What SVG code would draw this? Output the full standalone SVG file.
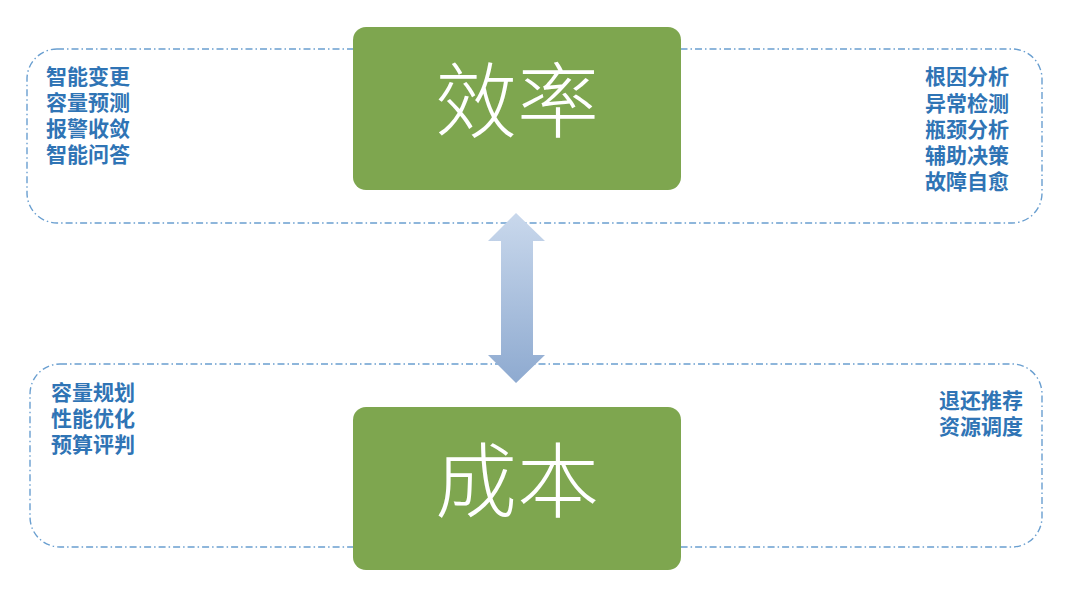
<svg xmlns="http://www.w3.org/2000/svg" width="1080" height="593" viewBox="0 0 1080 593">
<defs>
<linearGradient id="ag" x1="0" y1="0" x2="0" y2="1">
<stop offset="0" stop-color="#c9d8ec"/>
<stop offset="1" stop-color="#8eaad0"/>
</linearGradient>
<style>
.grp{fill:none;stroke:#6a9fd0;stroke-width:1.4;stroke-dasharray:7 3 1.5 3}
.main{fill:#7ea64f}
.big{font-family:"Noto Sans CJK SC",sans-serif;font-weight:300;font-size:82px;fill:#fff;text-anchor:middle}
.lbl{font-family:"Noto Sans CJK SC",sans-serif;font-weight:700;font-size:21px;fill:#2f74b5}
.r{text-anchor:end}
</style>
</defs>
<rect width="1080" height="593" fill="#fff"/>
<g id="group-top"><rect class="grp" x="27" y="49" width="1015" height="174" rx="30"/></g>
<g id="group-bottom"><rect class="grp" x="30" y="364" width="1012" height="183" rx="30"/></g>
<g id="connectors">
<path d="M516 213 L545 241 L533 241 L533 355 L545 355 L516 383 L488 355 L501 355 L501 241 L488 241 Z" fill="url(#ag)"/>
</g>
<g id="node-efficiency">
<rect class="main" x="353" y="27" width="328" height="163" rx="13"/>
<text class="big" x="517" y="131">效率</text>
</g>
<g id="node-cost">
<rect class="main" x="353" y="407" width="328" height="163" rx="13"/>
<text class="big" x="517" y="511">成本</text>
</g>
<g id="labels-top-left">
<text class="lbl"><tspan x="46" y="84">智能变更</tspan><tspan x="46" y="110">容量预测</tspan><tspan x="46" y="136">报警收敛</tspan><tspan x="46" y="162">智能问答</tspan></text>
</g>
<g id="labels-top-right">
<text class="lbl r"><tspan x="1009" y="84">根因分析</tspan><tspan x="1009" y="111">异常检测</tspan><tspan x="1009" y="137">瓶颈分析</tspan><tspan x="1009" y="163">辅助决策</tspan><tspan x="1009" y="189">故障自愈</tspan></text>
</g>
<g id="labels-bottom-left">
<text class="lbl"><tspan x="51" y="400">容量规划</tspan><tspan x="51" y="426">性能优化</tspan><tspan x="51" y="452">预算评判</tspan></text>
</g>
<g id="labels-bottom-right">
<text class="lbl r"><tspan x="1023" y="408">退还推荐</tspan><tspan x="1023" y="434">资源调度</tspan></text>
</g>
</svg>
